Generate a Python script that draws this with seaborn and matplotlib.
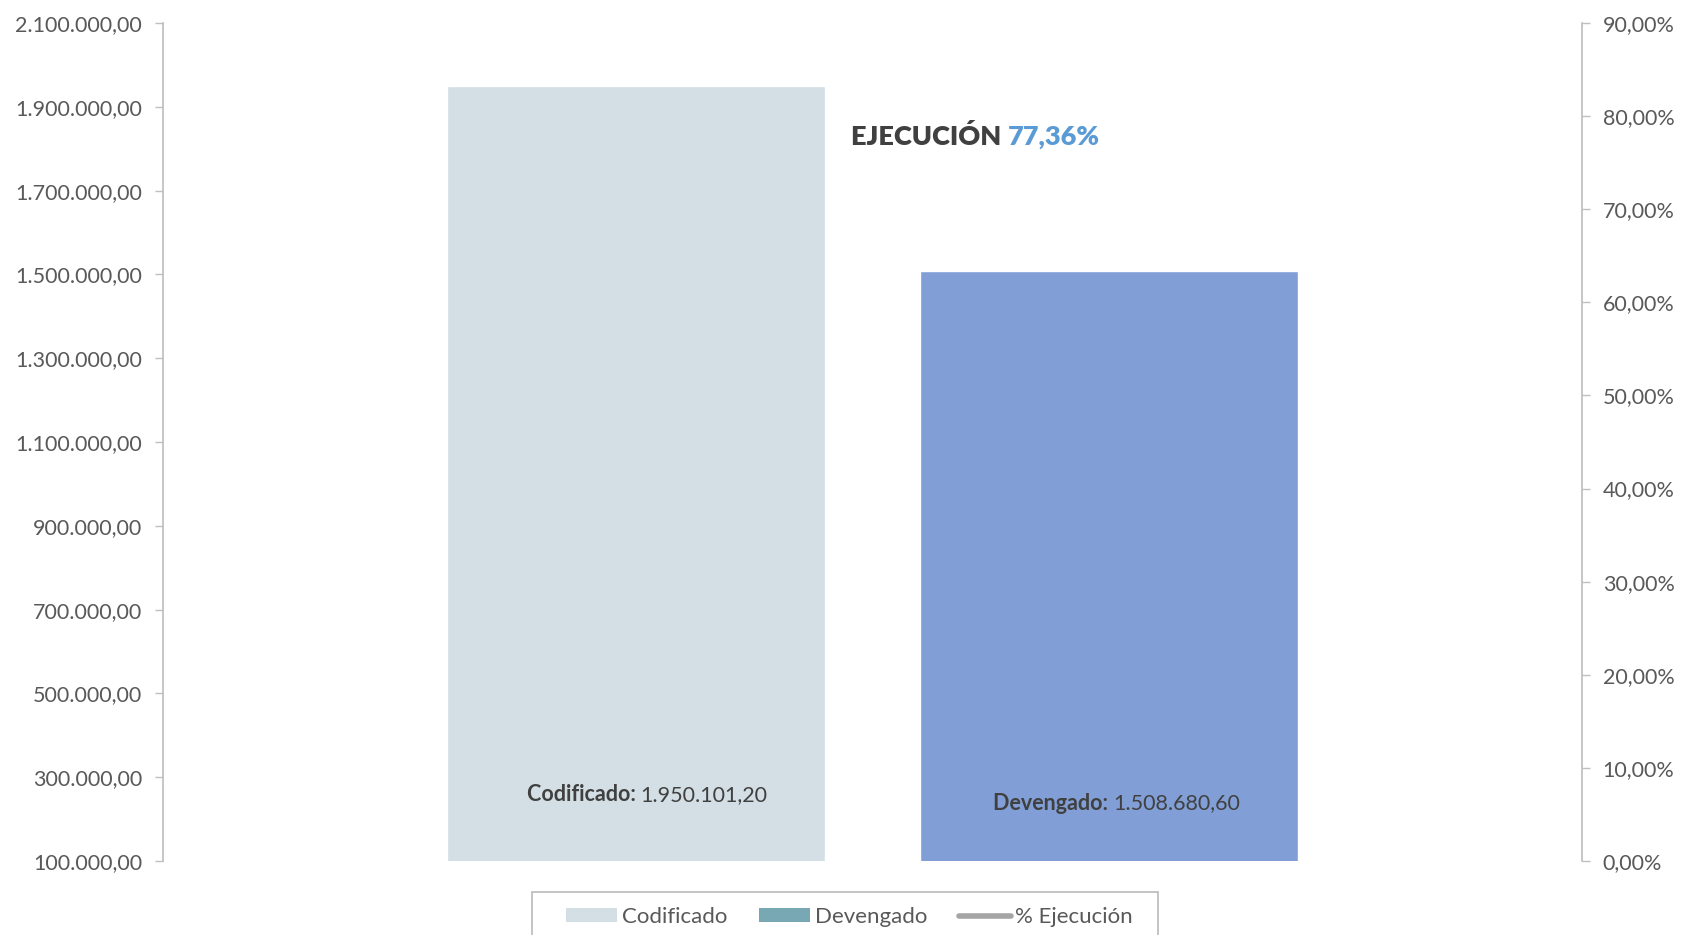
import matplotlib
matplotlib.use("Agg")
import matplotlib.pyplot as plt
import matplotlib.ticker as mticker
from matplotlib.patches import Patch, Rectangle
from matplotlib.lines import Line2D
import seaborn as sns

# data
categorias = ["Codificado", "Devengado"]
montos = [1950101.20, 1508680.60]
etiquetas = ["1.950.101,20", "1.508.680,60"]
ejecucion_txt = "77,36%"
colores_barras = ["#D3DFE4", "#819FD6"]
colores_leyenda = ["#D3DFE4", "#78A8B4", "#A5A5A5"]
leyenda = ["Codificado", "Devengado", "% Ejecución"]


def fmt_monto(v, pos=None):
    s = f"{v:,.2f}"
    return s.replace(",", "X").replace(".", ",").replace("X", ".")


def fmt_pct(v, pos=None):
    return f"{v * 100:.2f}%".replace(".", ",")


sns.set_theme(style="white")
plt.rcParams["font.family"] = ["Lato", "DejaVu Sans"]

fig = plt.figure(figsize=(16.82, 9.35), dpi=100)
ax = fig.add_axes([0.0969, 0.0791, 0.8436, 0.8963])

sns.barplot(x=categorias, y=montos, hue=categorias, palette=colores_barras,
            legend=False, width=0.8, saturation=1, ax=ax)
ax.set_xlim(-1, 2)
ax.set_ylim(100000, 2100000)
ax.yaxis.set_major_locator(mticker.MultipleLocator(200000, offset=100000))
ax.yaxis.set_major_formatter(mticker.FuncFormatter(fmt_monto))
ax.set_xticks([])
ax.set_xlabel("")
ax.set_ylabel("")

ax2 = ax.twinx()
ax2.set_ylim(0, 0.9)
ax2.yaxis.set_major_locator(mticker.MultipleLocator(0.1))
ax2.yaxis.set_major_formatter(mticker.FuncFormatter(fmt_pct))

for a in (ax, ax2):
    for s in ("top", "bottom"):
        a.spines[s].set_visible(False)
    a.spines["left"].set_color("#BFBFBF")
    a.spines["right"].set_color("#BFBFBF")
    a.tick_params(axis="y", length=6, width=1, color="#BFBFBF", pad=9,
                  labelsize=15.5, labelcolor="#595959", direction="out")
ax.spines["right"].set_visible(False)
ax2.spines["left"].set_visible(False)
ax.tick_params(axis="y", left=True)
ax2.tick_params(axis="y", right=True)

# etiquetas dentro de las barras
label_y = [258000, 238000]
for i, (cat, txt) in enumerate(zip(categorias, etiquetas)):
    ax.annotate(cat + ": ", xy=(i + 0.01, label_y[i]), ha="right", va="center",
                fontsize=15.5, fontweight="bold", color="#404040")
    ax.annotate(txt, xy=(i + 0.01, label_y[i]), ha="left", va="center",
                fontsize=15.5, color="#404040")

# titulo
t1 = ax.text(0.485, 0.865, "EJECUCIÓN ", transform=ax.transAxes,
             fontsize=19.5, fontweight="heavy", color="#404040",
             ha="left", va="center")
ax.annotate(ejecucion_txt, xy=(1, 0), xycoords=t1, ha="left", va="bottom",
            fontsize=19.5, fontweight="heavy", color="#5B9BD5")

# leyenda (el marco queda cortado por el borde inferior, como en el original)
handles = [
    Patch(facecolor=colores_leyenda[0], edgecolor="none"),
    Patch(facecolor=colores_leyenda[1], edgecolor="none"),
    Line2D([0], [0], color=colores_leyenda[2], lw=4, solid_capstyle="round"),
]
fig.legend(handles, leyenda, loc="center", bbox_to_anchor=(0.505, 0.019),
           ncol=3, frameon=False, fontsize=16, handlelength=2.3,
           handleheight=0.6, handletextpad=0.2, columnspacing=1.45,
           borderpad=0, borderaxespad=0, labelcolor="#595959")
fig.patches.append(Rectangle((532 / 1682, -0.05), (1158 - 532) / 1682,
                             (935 - 892) / 935 + 0.05,
                             transform=fig.transFigure, fill=False,
                             edgecolor="#BFBFBF", linewidth=1.3))

fig.savefig("out.png", dpi=100)
